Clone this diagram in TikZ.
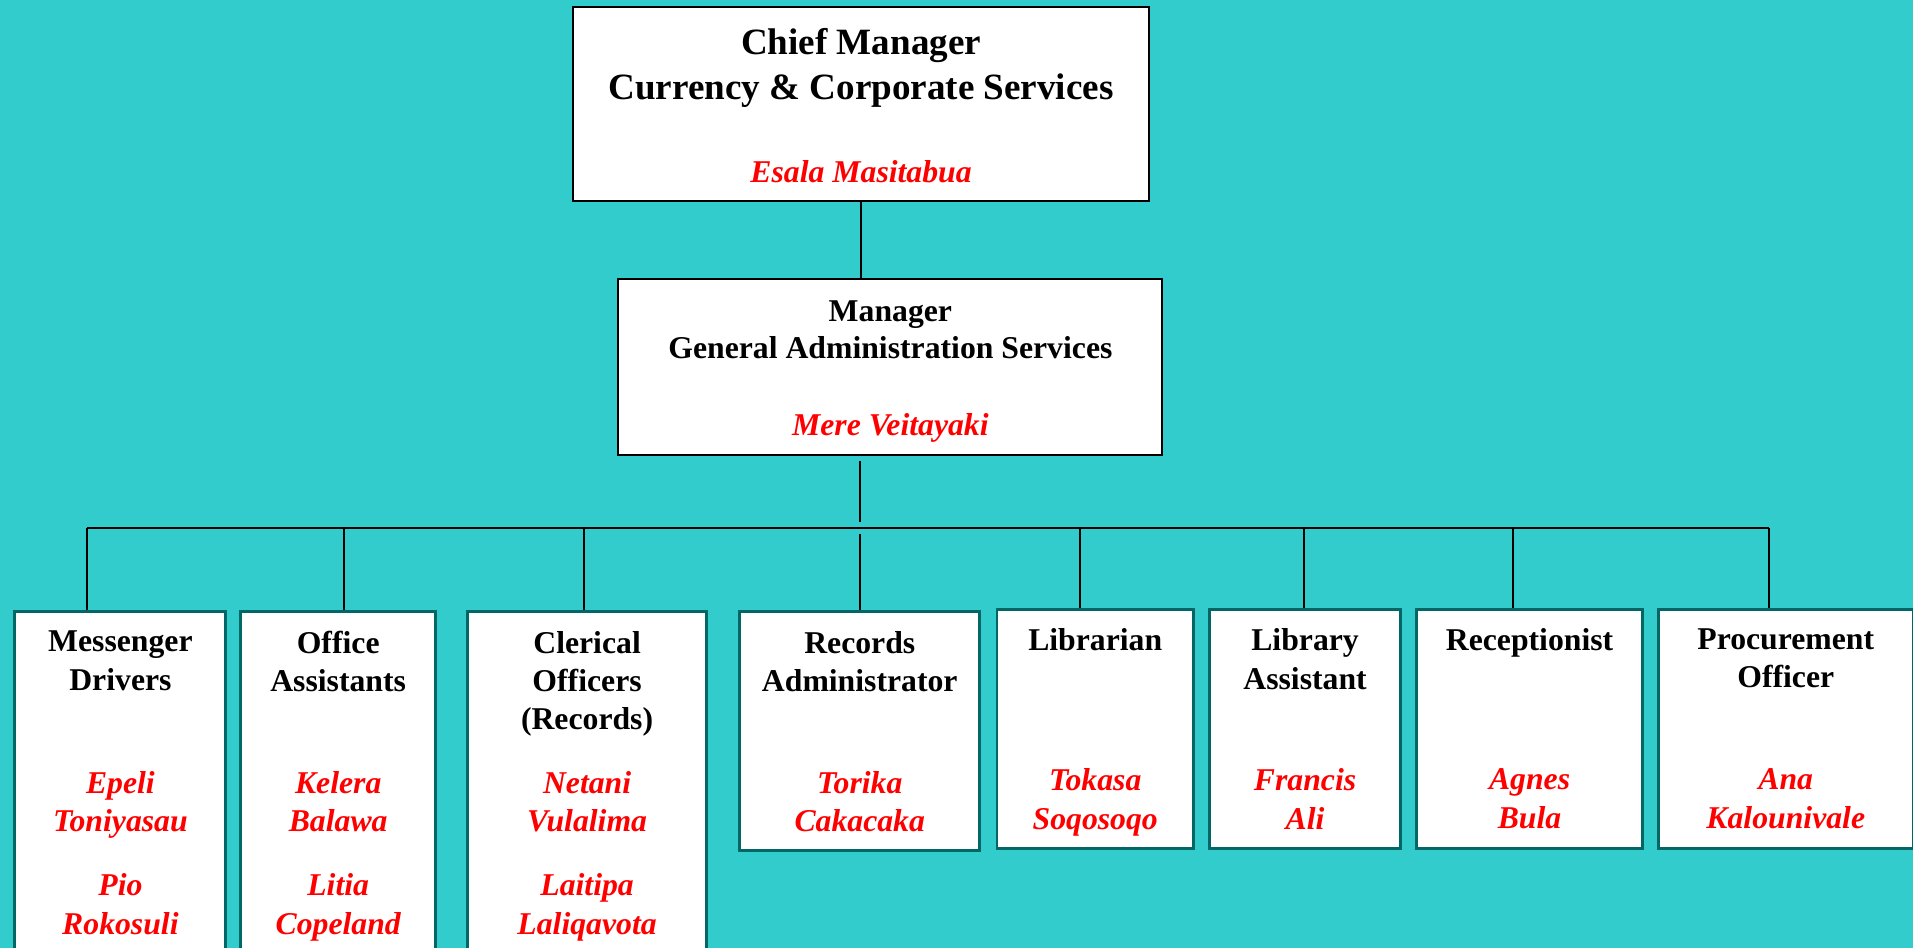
\documentclass[tikz,border=0pt]{standalone}
\usepackage{fontspec}
\setmainfont{Liberation Serif}
\usepackage{tikz}

\definecolor{sea}{HTML}{33CCCC}
\definecolor{rim}{HTML}{006666}

\tikzset{
	headbox/.style = {draw=black, line width=1.6pt, fill=white,
		inner sep=0pt, anchor=north west},
	staffbox/.style = {draw=rim, line width=2.4pt, fill=white,
		inner sep=0pt, anchor=north west},
	post/.style = {font=\bfseries\fontsize{26}{31.5}\selectfont,
		align=center, inner sep=0pt, anchor=north},
	person/.style = {font=\bfseries\itshape\fontsize{26}{31.5}\selectfont,
		text=red, align=center, inner sep=0pt, anchor=north},
	link/.style = {line width=1.6pt}
}

\begin{document}
\begin{tikzpicture}[x=1pt, y=-1pt]
	\fill[sea] (0,0) rectangle (1568,777);
	\useasboundingbox (0,0) rectangle (1568,777);
	\clip (0,0) rectangle (1568,777);

	% chief and manager
	\node[headbox, minimum width=472, minimum height=159] (cm) at (469,5) {};
	\node[post, font=\bfseries\fontsize{30.4}{37}\selectfont] (cmt) at ([yshift=-18pt]cm.north)
		{Chief Manager\\Currency \& Corporate Services};
	\node[person] (cmp) at ([yshift=-126pt]cm.north) {Esala Masitabua};

	\node[headbox, minimum width=446, minimum height=144] (mg) at (506,228) {};
	\node[post, font=\bfseries\fontsize{26}{30.3}\selectfont] (mgt) at ([yshift=-18pt]mg.north)
		{Manager\\General Administration Services};
	\node[person] (mgp) at ([yshift=-111pt]mg.north) {Mere Veitayaki};

	% staff
	\node[staffbox, minimum width=173, minimum height=300] (md) at (11,500) {};
	\node[staffbox, minimum width=160, minimum height=300] (oa) at (196,500) {};
	\node[staffbox, minimum width=196, minimum height=300] (co) at (382,500) {};
	\node[staffbox, minimum width=197, minimum height=196] (ra) at (605,500) {};
	\node[staffbox, minimum width=161, minimum height=196] (lb) at (816,498) {};
	\node[staffbox, minimum width=157, minimum height=196] (la) at (990,498) {};
	\node[staffbox, minimum width=185, minimum height=196] (rc) at (1160,498) {};
	\node[staffbox, minimum width=209, minimum height=196] (po) at (1358,498) {};

	\node[post] at ([yshift=-17pt]md.north) {Messenger\\Drivers};
	\node[person] at ([yshift=-132pt]md.north) {Epeli\\Toniyasau\\[21pt]Pio\\Rokosuli};
	\node[post] at ([yshift=-17pt]oa.north) {Office\\Assistants};
	\node[person] at ([yshift=-132pt]oa.north) {Kelera\\Balawa\\[21pt]Litia\\Copeland};
	\node[post] at ([yshift=-17pt]co.north) {Clerical\\Officers\\(Records)};
	\node[person] at ([yshift=-132pt]co.north) {Netani\\Vulalima\\[21pt]Laitipa\\Laliqavota};
	\node[post] at ([yshift=-17pt]ra.north) {Records\\Administrator};
	\node[person] at ([yshift=-132pt]ra.north) {Torika\\Cakacaka};
	\node[post] at ([yshift=-17pt]lb.north) {Librarian};
	\node[person] at ([yshift=-132pt]lb.north) {Tokasa\\Soqosoqo};
	\node[post] at ([yshift=-17pt]la.north) {Library\\Assistant};
	\node[person] at ([yshift=-132pt]la.north) {Francis\\Ali};
	\node[post] at ([yshift=-17pt]rc.north) {Receptionist};
	\node[person] at ([yshift=-132pt]rc.north) {Agnes\\Bula};
	\node[post] at ([yshift=-17pt]po.north) {Procurement\\Officer};
	\node[person] at ([yshift=-132pt]po.north) {Ana\\Kalounivale};

	% connectors
	\coordinate (bus) at (705,433);
	\draw[link] (cm.south) -- (cm.south |- mg.north);
	\draw[link] ([yshift=-4pt]mg.south -| bus) -- ([yshift=5pt]bus);
	\draw[link] (bus -| 71.5,0) -- (bus -| 1450,0);
	\foreach \n/\x in {md/71.5, oa/282, co/479, lb/885, la/1069, rc/1240, po/1450}
		\draw[link] (\n.north -| \x,0) -- (bus -| \x,0);
	\draw[link] (ra.north -| bus) -- ([yshift=-5pt]bus);
\end{tikzpicture}
\end{document}
